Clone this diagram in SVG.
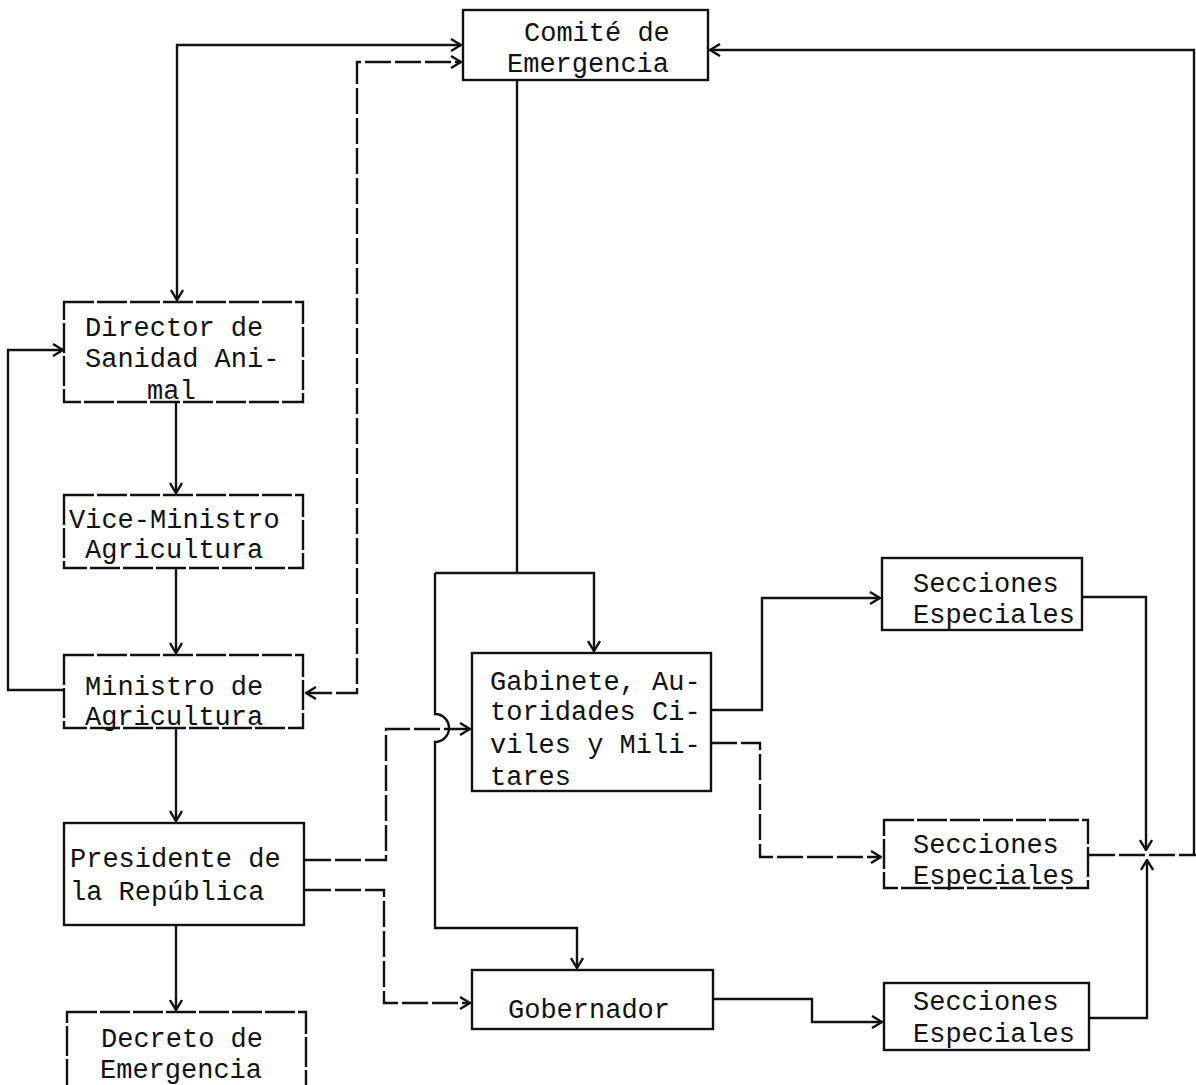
<svg xmlns="http://www.w3.org/2000/svg" width="1196" height="1085" viewBox="0 0 1196 1085">
<style>
.box{fill:#fff;stroke:#111;stroke-width:2.4}
.dbox{fill:#fff;stroke:#111;stroke-width:2.4;stroke-dasharray:30 3}
.t{font-family:"Liberation Mono","Courier New",monospace;font-size:27px;fill:#111}
.c{fill:none;stroke:#111;stroke-width:2.4;stroke-linejoin:miter}
.d{stroke-dasharray:26 4}
.a{marker-end:url(#ah)}
.b{marker-start:url(#ah);marker-end:url(#ah)}
</style>
<defs>
<marker id="ah" viewBox="0 0 12 14" refX="11" refY="7" markerWidth="12" markerHeight="14" markerUnits="userSpaceOnUse" orient="auto-start-reverse">
<path d="M1,1 L11,7 L1,13" fill="none" stroke="#111" stroke-width="2.4"/>
</marker>
</defs>
<rect width="1196" height="1085" fill="#fff"/>
<g id="connectors">
<path class="c b" d="M177,300 L177,45 L461,45"/>
<path class="c b d" d="M306,693 L357,693 L357,62 L461,62"/>
<path class="c a" d="M65,690 L8,690 L8,350 L63,350"/>
<path class="c a" d="M176,402 L176,493"/>
<path class="c a" d="M176,568 L176,653"/>
<path class="c a" d="M176,728 L176,821"/>
<path class="c a" d="M176,925 L176,1010"/>
<path class="c" d="M517,80 L517,573"/>
<path class="c a" d="M435,573 L594,573 L594,651"/>
<path class="c a" d="M435,573 L435,714 A14,14 0 0 1 435,742 L435,928 L577,928 L577,968"/>
<path class="c a d" d="M305,860 L386,860 L386,729 L470,729"/>
<path class="c a d" d="M305,890 L384,890 L384,1003 L470,1003"/>
<path class="c a" d="M711,710 L762,710 L762,598 L880,598"/>
<path class="c a d" d="M711,743 L760,743 L760,857 L881,857"/>
<path class="c a" d="M713,999 L812,999 L812,1022 L882,1022"/>
<path class="c a" d="M1082,597 L1146,597 L1146,850"/>
<path class="c a" d="M1089,1018 L1147,1018 L1147,860"/>
<path class="c d" d="M1089,855 L1196,855"/>
<path class="c a" d="M1194,855 L1194,50 L710,50"/>
</g>
<g id="comite"><rect class="box" x="463" y="10" width="245" height="70"/><text class="t" x="524" y="41">Comité de</text><text class="t" x="507" y="72">Emergencia</text></g>
<g id="director"><rect class="dbox" x="64" y="302" width="239" height="100"/><text class="t" x="85" y="336">Director de</text><text class="t" x="85" y="367">Sanidad Ani-</text><text class="t" x="147" y="399">mal</text></g>
<g id="vice"><rect class="dbox" x="64" y="495" width="239" height="73"/><text class="t" x="69" y="528">Vice-Ministro</text><text class="t" x="85" y="558">Agricultura</text></g>
<g id="ministro"><rect class="dbox" x="64" y="655" width="239" height="73"/><text class="t" x="85" y="695">Ministro de</text><text class="t" x="85" y="725">Agricultura</text></g>
<g id="presidente"><rect class="box" x="64" y="823" width="240" height="102"/><text class="t" x="70" y="867">Presidente de</text><text class="t" x="70" y="900">la República</text></g>
<g id="decreto"><rect class="dbox" x="67" y="1012" width="239" height="80"/><text class="t" x="101" y="1047">Decreto de</text><text class="t" x="100" y="1078">Emergencia</text></g>
<g id="gabinete"><rect class="box" x="472" y="653" width="239" height="138"/><text class="t" x="490" y="690">Gabinete, Au-</text><text class="t" x="490" y="720">toridades Ci-</text><text class="t" x="490" y="753">viles y Mili-</text><text class="t" x="490" y="785">tares</text></g>
<g id="gobernador"><rect class="box" x="472" y="970" width="241" height="59"/><text class="t" x="508" y="1018">Gobernador</text></g>
<g id="secciones1"><rect class="box" x="882" y="558" width="200" height="72"/><text class="t" x="913" y="592">Secciones</text><text class="t" x="913" y="623">Especiales</text></g>
<g id="secciones2"><rect class="dbox" x="884" y="820" width="204" height="68"/><text class="t" x="913" y="853">Secciones</text><text class="t" x="913" y="884">Especiales</text></g>
<g id="secciones3"><rect class="box" x="884" y="983" width="205" height="67"/><text class="t" x="913" y="1010">Secciones</text><text class="t" x="913" y="1042">Especiales</text></g>
</svg>
